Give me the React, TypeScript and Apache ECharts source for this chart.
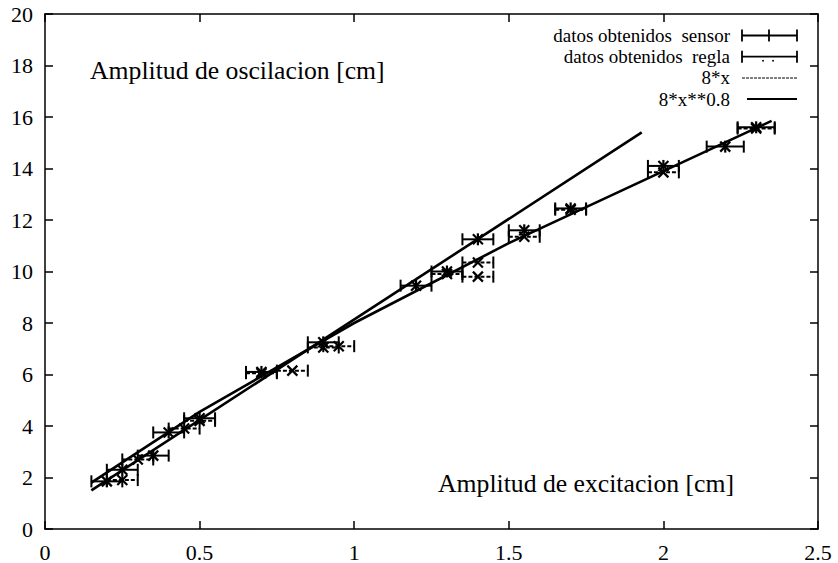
import React, { useEffect, useRef } from "react";
import * as echarts from "echarts";

// ---- data ----
const sensorX = [0.2, 0.25, 0.35, 0.4, 0.5, 0.7, 0.9, 1.2, 1.3, 1.4, 1.55, 1.7, 2.0, 2.2, 2.3];
const sensorY = [1.85, 2.3, 2.85, 3.75, 4.3, 6.1, 7.25, 9.45, 10.0, 11.25, 11.6, 12.45, 14.1, 14.85, 15.6];
const sensorErr = [0.05, 0.05, 0.05, 0.05, 0.05, 0.05, 0.05, 0.05, 0.05, 0.05, 0.05, 0.05, 0.05, 0.06, 0.06];

const reglaX = [0.25, 0.3, 0.45, 0.5, 0.7, 0.8, 0.9, 0.95, 1.3, 1.4, 1.4, 1.55, 1.7, 2.0, 2.3];
const reglaY = [1.9, 2.7, 3.9, 4.2, 6.05, 6.15, 7.05, 7.1, 9.9, 10.35, 9.8, 11.35, 12.4, 13.85, 15.55];
const reglaErr = [0.05, 0.05, 0.05, 0.05, 0.05, 0.05, 0.05, 0.05, 0.05, 0.05, 0.05, 0.05, 0.05, 0.05, 0.06];

const linearX = [0.15, 1.93];
const linearY = [1.5, 15.4];
const powerX = [0.15, 0.5, 1.0, 1.5, 2.0, 2.35];
const powerY = [1.8, 4.55, 8.0, 11.1, 13.9, 15.85];

const legendLabels = ["datos obtenidos  sensor", "datos obtenidos  regla", "8*x", "8*x**0.8"];
const yTitle = "Amplitud de oscilacion [cm]";
const xTitle = "Amplitud de excitacion [cm]";

const FONT = "Liberation Serif, Times New Roman, serif";

function makeRender(kind: "sensor" | "regla") {
  return (params: any, api: any) => {
    const x = api.value(0);
    const y = api.value(1);
    const e = api.value(2);
    const c = api.coord([x, y]);
    const a = api.coord([x - e, y]);
    const b = api.coord([x + e, y]);
    const cap = 6;
    const m = 5;
    const lw = 2;
    const solid = { stroke: "#000", lineWidth: lw };
    const barStyle = kind === "regla" ? { stroke: "#000", lineWidth: lw, lineDash: [4, 2] } : solid;
    const mk = { stroke: "#000", lineWidth: 2.2 };
    const children: any[] = [
      { type: "line", shape: { x1: a[0], y1: a[1], x2: b[0], y2: b[1] }, style: barStyle },
      { type: "line", shape: { x1: a[0], y1: a[1] - cap, x2: a[0], y2: a[1] + cap }, style: solid },
      { type: "line", shape: { x1: b[0], y1: b[1] - cap, x2: b[0], y2: b[1] + cap }, style: solid },
      { type: "line", shape: { x1: c[0] - m, y1: c[1] - m, x2: c[0] + m, y2: c[1] + m }, style: mk },
      { type: "line", shape: { x1: c[0] - m, y1: c[1] + m, x2: c[0] + m, y2: c[1] - m }, style: mk },
    ];
    if (kind === "sensor") {
      children.push({ type: "line", shape: { x1: c[0], y1: c[1] - 6, x2: c[0], y2: c[1] + 6 }, style: mk });
    }
    return { type: "group", children };
  };
}

export default function App() {
  const ref = useRef<HTMLDivElement>(null);
  useEffect(() => {
    if (!ref.current) return;
    const chart = echarts.init(ref.current, undefined, { renderer: "svg" });

    const sensorData = sensorX.map((x, i) => [x, sensorY[i], sensorErr[i]]);
    const reglaData = reglaX.map((x, i) => [x, reglaY[i], reglaErr[i]]);
    const linearData = linearX.map((x, i) => [x, linearY[i]]);
    const powerData = powerX.map((x, i) => [x, powerY[i]]);

    const axisLine = { show: true, onZero: false, lineStyle: { color: "#000", width: 1.5 } };
    const axisTick = { show: true, inside: true, length: 8, lineStyle: { color: "#000", width: 1.5 } };
    const label = { color: "#000", fontFamily: FONT, fontSize: 22 };

    const legendRowsY = [35.5, 56.7, 77.9, 99.1];
    const textRight = 730;
    const sx1 = 742;
    const sx2 = 797;

    const graphic: any[] = [
      { type: "text", x: 90, y: 70, style: { text: yTitle, fill: "#000", fontFamily: FONT, fontSize: 25.7, verticalAlign: "middle", align: "left" } },
      { type: "text", x: 438, y: 483, style: { text: xTitle, fill: "#000", fontFamily: FONT, fontSize: 25.7, verticalAlign: "middle", align: "left" } },
    ];
    legendLabels.forEach((t, i) => {
      graphic.push({ type: "text", x: textRight, y: legendRowsY[i], style: { text: t, fill: "#000", fontFamily: FONT, fontSize: 19, verticalAlign: "middle", align: "right" } });
    });
    const ls = { stroke: "#000", lineWidth: 1.8 };
    // sensor sample
    const r0 = legendRowsY[0];
    graphic.push({ type: "line", shape: { x1: sx1, y1: r0, x2: sx2, y2: r0 }, style: ls });
    graphic.push({ type: "line", shape: { x1: sx1, y1: r0 - 6, x2: sx1, y2: r0 + 6 }, style: ls });
    graphic.push({ type: "line", shape: { x1: sx2, y1: r0 - 6, x2: sx2, y2: r0 + 6 }, style: ls });
    graphic.push({ type: "line", shape: { x1: 769, y1: r0 - 6, x2: 769, y2: r0 + 6 }, style: ls });
    // regla sample
    const r1 = legendRowsY[1];
    graphic.push({ type: "line", shape: { x1: sx1, y1: r1, x2: sx2, y2: r1 }, style: ls });
    graphic.push({ type: "line", shape: { x1: sx1, y1: r1 - 6, x2: sx1, y2: r1 + 6 }, style: ls });
    graphic.push({ type: "line", shape: { x1: sx2, y1: r1 - 6, x2: sx2, y2: r1 + 6 }, style: ls });
    graphic.push({ type: "circle", shape: { cx: 763, cy: r1 + 4, r: 0.9 }, style: { fill: "#000" } });
    graphic.push({ type: "circle", shape: { cx: 773, cy: r1 + 4, r: 0.9 }, style: { fill: "#000" } });
    // 8*x sample
    const r2 = legendRowsY[2];
    graphic.push({ type: "line", shape: { x1: sx1, y1: r2, x2: sx2, y2: r2 }, style: { stroke: "#555", lineWidth: 1.5, lineDash: [3, 1] } });
    // 8*x**0.8 sample
    const r3 = legendRowsY[3];
    graphic.push({ type: "line", shape: { x1: 747, y1: r3, x2: sx2, y2: r3 }, style: { stroke: "#000", lineWidth: 2 } });

    chart.setOption({
      animation: false,
      backgroundColor: "#fff",
      grid: { left: 45, right: 20, top: 14, bottom: 34, containLabel: false, outerBoundsMode: "none" },
      xAxis: [
        {
          type: "value", min: 0, max: 2.5, interval: 0.5, position: "bottom",
          axisLine, axisTick, splitLine: { show: false },
          axisLabel: { ...label, margin: 12, formatter: (v: number) => String(v) },
        },
        {
          type: "value", min: 0, max: 2.5, interval: 0.5, position: "top",
          axisLine, axisTick, splitLine: { show: false }, axisLabel: { show: false },
        },
      ],
      yAxis: [
        {
          type: "value", min: 0, max: 20, interval: 2, position: "left",
          axisLine, axisTick, splitLine: { show: false },
          axisLabel: { ...label, margin: 12, padding: [7, 0, 0, 0] },
        },
        {
          type: "value", min: 0, max: 20, interval: 2, position: "right",
          axisLine, axisTick, splitLine: { show: false }, axisLabel: { show: false },
        },
      ],
      series: [
        {
          name: legendLabels[2], type: "line", data: linearData, xAxisIndex: 0, yAxisIndex: 0,
          symbol: "none", lineStyle: { color: "#000", width: 2.6 }, silent: true,
        },
        {
          name: legendLabels[3], type: "line", data: powerData, xAxisIndex: 0, yAxisIndex: 0,
          symbol: "none", lineStyle: { color: "#000", width: 2.6 }, silent: true,
        },
        {
          name: legendLabels[1], type: "custom", data: reglaData, xAxisIndex: 0, yAxisIndex: 0,
          renderItem: makeRender("regla"), silent: true,
        },
        {
          name: legendLabels[0], type: "custom", data: sensorData, xAxisIndex: 0, yAxisIndex: 0,
          renderItem: makeRender("sensor"), silent: true,
        },
      ],
      graphic,
    });
    return () => chart.dispose();
  }, []);
  return <div ref={ref} style={{ position: "fixed", left: 0, top: 0, width: 838, height: 563, background: "#fff" }} />;
}
